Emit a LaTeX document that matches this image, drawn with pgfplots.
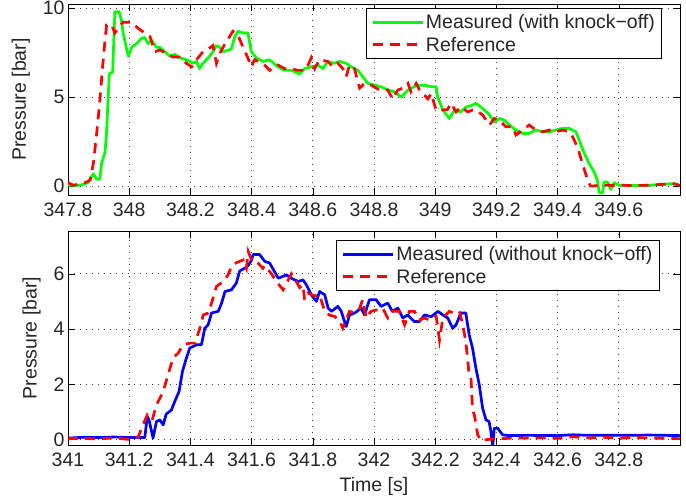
\documentclass[border=0pt]{standalone}
\usepackage{fontspec}
\setmainfont{Liberation Sans}
\usepackage{pgfplots}
\pgfplotsset{compat=1.18}
\usepackage{pgfplotstable}

% Pressure traces: with knock-off (upper) and without knock-off (lower)
\pgfplotstableread{
t p
347.80 0.05
347.84 0.05
347.866 0.2
347.883 0.7
347.894 0.38
347.904 0.38
347.91 1.3
347.921 1.9
347.926 3.0
347.935 6.3
347.946 6.4
347.953 9.8
347.967 9.8
347.975 9.3
347.98 8.6
347.997 7.3
348.008 7.8
348.024 8.0
348.04 8.3
348.051 8.35
348.062 8.0
348.073 8.2
348.089 7.8
348.10 7.8
348.116 7.55
348.133 7.3
348.149 7.4
348.165 7.2
348.187 7.1
348.209 6.9
348.22 7.0
348.23 6.6
348.241 6.9
348.258 7.2
348.274 7.55
348.285 7.9
348.296 7.8
348.307 7.55
348.334 7.7
348.345 8.4
348.356 8.7
348.372 8.6
348.388 8.6
348.399 7.55
348.416 7.2
348.437 7.0
348.457 7.1
348.465 7.0
348.486 6.7
348.508 6.5
348.53 6.5
348.557 6.3
348.573 6.6
348.595 6.7
348.617 6.8
348.633 6.6
348.649 7.0
348.671 6.9
348.687 7.0
348.709 6.9
348.726 6.7
348.747 6.5
348.763 6.15
348.78 5.77
348.802 5.67
348.823 5.58
348.845 5.4
348.867 5.3
348.889 5.0
348.905 5.3
348.921 5.5
348.943 5.67
348.965 5.67
348.987 5.58
349.003 5.58
349.008 5.0
349.025 4.27
349.046 3.8
349.063 4.27
349.084 4.17
349.101 4.45
349.122 4.55
349.133 4.65
349.155 4.37
349.177 4.0
349.193 3.6
349.21 3.8
349.226 3.7
349.242 3.43
349.264 3.15
349.286 2.96
349.307 2.96
349.329 3.15
349.351 3.05
349.373 3.05
349.394 3.15
349.416 3.24
349.438 3.24
349.46 3.05
349.47 2.6
349.487 1.84
349.503 1.28
349.519 0.8
349.53 0.34
349.536 -0.38
349.547 -0.38
349.552 0.24
349.563 0.22
349.574 -0.19
349.585 0.19
349.60 0.05
349.65 0.03
349.70 0.05
349.75 0.1
349.77 0.14
349.80 0.05
}\knockmeas

\pgfplotstableread{
t p
347.80 0.2
347.817 0.05
347.85 0.15
347.872 0.33
347.883 1.3
347.894 3.0
347.904 4.8
347.913 6.7
347.921 8.2
347.926 9.05
347.943 9.05
347.953 8.6
347.97 9.05
347.98 9.2
348.008 9.2
348.03 8.85
348.051 8.6
348.068 8.4
348.084 7.55
348.10 7.65
348.122 7.45
348.143 7.25
348.165 7.25
348.187 6.9
348.204 6.7
348.22 7.1
348.241 7.55
348.258 7.7
348.274 7.9
348.285 6.9
348.296 7.45
348.31 7.9
348.339 8.7
348.355 8.5
348.372 7.8
348.388 7.2
348.399 6.7
348.41 7.1
348.437 6.9
348.459 6.5
348.486 6.8
348.508 6.6
348.53 6.6
348.551 6.5
348.573 6.5
348.584 6.8
348.595 7.2
348.606 6.6
348.622 7.1
348.649 7.0
348.666 6.7
348.682 6.9
348.698 6.6
348.709 6.15
348.72 6.8
348.736 6.6
348.753 5.5
348.769 5.77
348.791 5.67
348.818 5.4
348.845 5.4
348.861 4.9
348.878 5.4
348.894 5.5
348.911 5.77
348.921 5.3
348.938 5.77
348.949 5.4
348.976 4.9
348.987 5.2
349.003 4.27
349.02 4.27
349.04 4.3
349.052 4.65
349.068 4.17
349.084 4.45
349.106 4.17
349.122 4.27
349.133 4.27
349.155 4.0
349.177 3.43
349.193 3.8
349.21 3.7
349.231 3.33
349.253 3.33
349.264 2.87
349.286 3.15
349.307 3.43
349.329 3.15
349.351 3.05
349.373 3.15
349.394 3.05
349.416 3.15
349.438 3.05
349.449 2.77
349.465 2.2
349.481 1.28
349.498 0.34
349.508 0.0
349.55 0.05
349.60 0.05
349.65 0.03
349.70 0.05
349.76 0.12
349.78 0.14
349.80 0.03
}\knockref

\pgfplotstableread{
t p
341.00 0.05
341.05 0.08
341.10 0.07
341.15 0.09
341.20 0.07
341.251 0.07
341.259 0.83
341.265 0.7
341.278 0.05
341.289 0.65
341.30 0.71
341.311 0.53
341.321 0.92
341.338 1.07
341.349 1.38
341.363 1.74
341.374 2.46
341.385 2.88
341.398 3.31
341.42 3.43
341.436 3.43
341.447 4.03
341.458 4.15
341.469 4.58
341.491 4.64
341.502 4.94
341.513 5.36
341.534 5.42
341.55 5.66
341.561 6.1
341.577 6.2
341.589 6.3
341.60 6.5
341.605 6.7
341.626 6.7
341.643 6.45
341.659 6.39
341.687 5.84
341.714 5.96
341.73 5.84
341.752 5.72
341.768 5.78
341.779 5.6
341.795 5.24
341.812 5.0
341.822 5.36
341.839 5.24
341.85 4.76
341.861 4.64
341.882 4.82
341.893 4.64
341.909 4.09
341.92 4.51
341.937 4.58
341.958 4.76
341.969 4.51
341.985 5.06
342.007 5.06
342.023 4.82
342.045 4.94
342.06 4.64
342.078 4.76
342.094 4.4
342.11 4.51
342.132 4.27
342.148 4.27
342.165 4.51
342.187 4.45
342.209 4.64
342.225 4.51
342.241 4.4
342.257 4.03
342.268 4.15
342.284 4.58
342.30 4.58
342.311 3.79
342.322 3.31
342.333 2.58
342.344 1.98
342.355 1.13
342.366 0.71
342.376 0.65
342.382 0.29
342.388 -0.25
342.393 0.41
342.404 0.41
342.42 0.17
342.44 0.14
342.50 0.15
342.60 0.14
342.65 0.17
342.70 0.15
342.80 0.15
342.90 0.16
343.00 0.14
}\noknockmeas

\pgfplotstableread{
t p
341.00 0.03
341.05 0.04
341.10 0.02
341.15 0.06
341.20 0.0
341.23 0.1
341.24 0.4
341.259 0.89
341.275 0.7
341.289 1.25
341.311 1.74
341.327 2.34
341.343 2.95
341.36 3.13
341.376 3.43
341.398 3.49
341.415 3.49
341.431 4.03
341.442 4.51
341.458 4.58
341.469 4.94
341.485 5.54
341.507 5.72
341.523 5.96
341.534 6.27
341.55 6.4
341.572 6.5
341.583 6.2
341.589 6.81
341.60 6.5
341.61 6.5
341.62 6.4
341.637 6.2
341.643 6.3
341.665 6.0
341.681 5.72
341.703 5.42
341.73 6.0
341.746 5.72
341.757 5.5
341.768 5.6
341.773 5.06
341.784 5.3
341.806 5.2
341.822 5.24
341.839 4.64
341.855 4.5
341.871 4.46
341.887 4.3
341.898 4.03
341.92 4.64
341.937 4.58
341.953 4.76
341.963 5.06
341.974 4.4
341.99 4.64
342.012 4.7
342.028 4.76
342.045 4.4
342.06 4.64
342.083 4.64
342.10 4.15
342.116 4.64
342.132 4.64
342.148 4.33
342.165 4.4
342.18 4.33
342.203 4.46
342.214 3.6
342.225 4.4
342.246 4.64
342.262 4.58
342.279 4.64
342.29 4.15
342.30 3.55
342.311 2.34
342.317 2.22
342.322 1.07
342.328 0.89
342.339 0.17
342.35 -0.05
342.37 0.0
342.45 0.05
342.50 0.05
342.55 0.06
342.60 0.04
342.65 0.1
342.70 0.05
342.75 0.08
342.80 0.04
342.85 0.08
342.90 0.05
343.00 0.03
}\noknockref

\definecolor{measgreen}{rgb}{0,1,0}
\definecolor{measblue}{rgb}{0,0,1}
\definecolor{refred}{rgb}{1,0,0}
\definecolor{txt}{gray}{0.15}

\pgfplotsset{
  pressureaxis/.style={
    scale only axis,
    width=612pt,
    axis line style={black, line width=0.8pt},
    tick style={black, line width=0.6pt},
    tick align=inside,
    major tick length=7pt,
    grid=major,
    major grid style={black!75, line width=0.7pt, dash pattern=on 0.8pt off 5.2pt},
    /pgf/number format/assume math mode=true,
    ticklabel style={font=\fontsize{19.5}{23}\selectfont, text=txt},
    label style={font=\fontsize{19.5}{23}\selectfont, text=txt},
    xticklabel style={yshift=-4pt},
    ylabel={Pressure [bar]},
    ylabel style={yshift=6pt},
    legend cell align=left,
    legend style={draw=black, line width=0.8pt, fill=white,
      font=\fontsize{19.5}{23}\selectfont, text=txt,
      inner xsep=5pt, inner ysep=4pt, row sep=3pt},
    legend image code/.code={\draw[#1] (0pt,0pt) -- (50pt,0pt);},
  },
  meas/.style={line width=2.7pt, line join=round},
  refr/.style={refred, line width=2.7pt, dash pattern=on 10pt off 7pt},
}

\begin{document}
\begin{tikzpicture}
\useasboundingbox (0,0) rectangle (686pt,499pt);

\begin{axis}[pressureaxis,
  at={(68pt,304pt)}, anchor=south west,
  height=191pt,
  xmin=347.8, xmax=349.8, ymin=-0.5, ymax=10.23,
  xtick={347.8,348,348.2,348.4,348.6,348.8,349,349.2,349.4,349.6},
  xticklabels={347.8,348,348.2,348.4,348.6,348.8,349,349.2,349.4,349.6},
  ytick={0,5,10},
  legend style={at={(0.971,0.979)}, anchor=north east},
]
\addplot[meas, measgreen] table[x=t, y=p] {\knockmeas};
\addlegendentry{Measured (with knock\textminus off)}
\addplot[refr] table[x=t, y=p] {\knockref};
\addlegendentry{Reference}
\end{axis}

\begin{axis}[pressureaxis,
  at={(68pt,54pt)}, anchor=south west,
  height=214pt,
  xmin=341, xmax=343, ymin=-0.2, ymax=7.55,
  xtick={341,341.2,341.4,341.6,341.8,342,342.2,342.4,342.6,342.8},
  xticklabels={341,341.2,341.4,341.6,341.8,342,342.2,342.4,342.6,342.8},
  ytick={0,2,4,6},
  xlabel={Time [s]},
  xlabel style={yshift=-4pt},
  legend style={at={(0.967,0.958)}, anchor=north east},
]
\addplot[meas, measblue] table[x=t, y=p] {\noknockmeas};
\addlegendentry{Measured (without knock\textminus off)}
\addplot[refr] table[x=t, y=p] {\noknockref};
\addlegendentry{Reference}
\end{axis}
\end{tikzpicture}
\end{document}
